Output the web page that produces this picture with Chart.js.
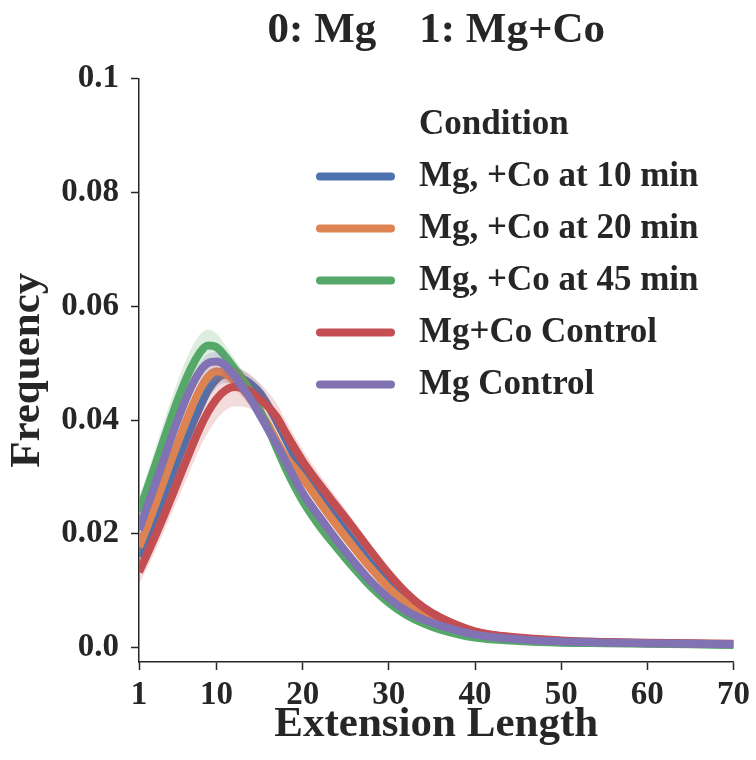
<!DOCTYPE html>
<html>
<head>
<meta charset="utf-8">
<script src="https://cdn.jsdelivr.net/npm/chart.js@4"></script>
<style>
  html, body { margin: 0; padding: 0; background: #fff; }
</style>
</head>
<body>
<canvas id="extChart" width="756" height="760"></canvas>
<script>
// Extension length histogram (mean frequency) per condition
const extensionLength = [1, 2, 3, 4, 5, 6, 7, 8, 9, 10, 11, 12, 13, 14, 15, 16, 17, 18, 20, 22, 24, 26, 28, 30, 32, 34, 36, 40, 45, 50, 55, 60, 65, 70];

const mgCo10 = [0.0160, 0.0195, 0.0232, 0.0270, 0.0310, 0.0348, 0.0385, 0.0420, 0.0452, 0.0472, 0.0480, 0.0479, 0.0473, 0.0463, 0.0448, 0.0425, 0.0397, 0.0367, 0.0310, 0.0265, 0.0225, 0.0185, 0.0146, 0.0112, 0.0085, 0.0064, 0.0049, 0.0028, 0.0017, 0.0012, 0.0010, 0.0008, 0.0007, 0.0006];
const mgCo20 = [0.0177, 0.0215, 0.0256, 0.0298, 0.0340, 0.0380, 0.0418, 0.0452, 0.0476, 0.0486, 0.0482, 0.0470, 0.0455, 0.0437, 0.0415, 0.0391, 0.0363, 0.0336, 0.0298, 0.0255, 0.0214, 0.0175, 0.0138, 0.0105, 0.0079, 0.0059, 0.0045, 0.0026, 0.0016, 0.0011, 0.0009, 0.0008, 0.0007, 0.0006];
const mgCo45 = [0.0238, 0.0282, 0.0326, 0.0371, 0.0415, 0.0455, 0.0490, 0.0517, 0.0531, 0.0528, 0.0512, 0.0492, 0.0472, 0.0448, 0.0418, 0.0385, 0.0350, 0.0316, 0.0258, 0.0213, 0.0175, 0.0139, 0.0106, 0.0079, 0.0058, 0.0043, 0.0032, 0.0018, 0.0012, 0.0009, 0.0008, 0.0007, 0.0006, 0.0005];
const mgCoControl = [0.0133, 0.0166, 0.0200, 0.0236, 0.0273, 0.0311, 0.0348, 0.0384, 0.0414, 0.0437, 0.0452, 0.0458, 0.0456, 0.0449, 0.0437, 0.0423, 0.0405, 0.0378, 0.0328, 0.0286, 0.0247, 0.0208, 0.0168, 0.0130, 0.0097, 0.0071, 0.0053, 0.0029, 0.0018, 0.0013, 0.0010, 0.0009, 0.0008, 0.0007];
const mgControl = [0.0207, 0.0250, 0.0292, 0.0336, 0.0380, 0.0420, 0.0456, 0.0484, 0.0500, 0.0503, 0.0496, 0.0479, 0.0458, 0.0436, 0.0410, 0.0383, 0.0357, 0.0328, 0.0272, 0.0229, 0.0188, 0.0150, 0.0115, 0.0087, 0.0065, 0.0050, 0.0039, 0.0023, 0.0015, 0.0011, 0.0009, 0.0008, 0.0007, 0.0006];

// half width of the 95% interval
const mgCo10Ci = [0.0015, 0.0015, 0.0015, 0.0015, 0.0015, 0.0015, 0.0015, 0.0015, 0.0015, 0.0015, 0.0015, 0.0015, 0.0015, 0.0015, 0.0015, 0.0014, 0.0014, 0.0013, 0.0012, 0.0011, 0.0010, 0.0009, 0.0008, 0.0007, 0.0006, 0.0005, 0.0004, 0.0003, 0.0002, 0.0002, 0.0002, 0.0002, 0.0002, 0.0002];
const mgCo20Ci = [0.0015, 0.0015, 0.0015, 0.0016, 0.0016, 0.0016, 0.0016, 0.0016, 0.0016, 0.0016, 0.0015, 0.0015, 0.0015, 0.0014, 0.0014, 0.0014, 0.0013, 0.0013, 0.0012, 0.0011, 0.0010, 0.0009, 0.0008, 0.0007, 0.0006, 0.0005, 0.0004, 0.0003, 0.0002, 0.0002, 0.0002, 0.0002, 0.0002, 0.0002];
const mgCo45Ci = [0.0025, 0.0027, 0.0030, 0.0032, 0.0033, 0.0034, 0.0034, 0.0032, 0.0028, 0.0024, 0.0020, 0.0018, 0.0016, 0.0015, 0.0014, 0.0013, 0.0012, 0.0012, 0.0011, 0.0010, 0.0009, 0.0008, 0.0007, 0.0006, 0.0005, 0.0004, 0.0004, 0.0003, 0.0002, 0.0002, 0.0002, 0.0002, 0.0002, 0.0002];
const mgCoControlCi = [0.0022, 0.0024, 0.0026, 0.0028, 0.0030, 0.0032, 0.0034, 0.0035, 0.0036, 0.0036, 0.0035, 0.0034, 0.0032, 0.0030, 0.0028, 0.0026, 0.0024, 0.0022, 0.0020, 0.0018, 0.0016, 0.0014, 0.0012, 0.0010, 0.0008, 0.0007, 0.0006, 0.0004, 0.0003, 0.0002, 0.0002, 0.0002, 0.0002, 0.0002];
const mgControlCi = [0.0016, 0.0016, 0.0016, 0.0016, 0.0016, 0.0016, 0.0016, 0.0016, 0.0016, 0.0016, 0.0016, 0.0015, 0.0015, 0.0015, 0.0014, 0.0014, 0.0013, 0.0013, 0.0012, 0.0011, 0.0010, 0.0009, 0.0008, 0.0007, 0.0006, 0.0005, 0.0004, 0.0003, 0.0002, 0.0002, 0.0002, 0.0002, 0.0002, 0.0002];

const conditions = ['Mg, +Co at 10 min', 'Mg, +Co at 20 min', 'Mg, +Co at 45 min', 'Mg+Co Control', 'Mg Control'];
const xTicks = [1, 10, 20, 30, 40, 50, 60, 70];
const yTicks = [0, 0.02, 0.04, 0.06, 0.08, 0.1];
const yTickLabels = ['0.0', '0.02', '0.04', '0.06', '0.08', '0.1'];

const palette = ['#4C72B0', '#DD8452', '#55A868', '#C44E52', '#8172B3'];
const seriesValues = [mgCo10, mgCo20, mgCo45, mgCoControl, mgControl];
const seriesCi = [mgCo10Ci, mgCo20Ci, mgCo45Ci, mgCoControlCi, mgControlCi];

const SERIF = '"Liberation Serif", "Times New Roman", serif';
const INK = '#262626';

function toPoints(ys) {
    return ys.map((y, i) => ({ x: extensionLength[i], y: y }));
}

function fade(hex, a) {
    const n = parseInt(hex.slice(1), 16);
    return 'rgba(' + (n >> 16) + ',' + ((n >> 8) & 255) + ',' + (n & 255) + ',' + a + ')';
}

// each condition: lower bound, upper bound (filled to lower), then the mean line
const datasets = [];
conditions.forEach((name, i) => {
    const vals = seriesValues[i];
    const ci = seriesCi[i];
    const layer = (4 - i) * 2;
    const band = {
        pointRadius: 0, borderWidth: 0, clip: 0, cubicInterpolationMode: 'monotone'
    };
    datasets.push(Object.assign({}, band, {
        label: '', data: toPoints(vals.map((v, k) => v - ci[k])), fill: false, order: layer
    }));
    datasets.push(Object.assign({}, band, {
        label: '', data: toPoints(vals.map((v, k) => v + ci[k])),
        fill: '-1', backgroundColor: fade(palette[i], 0.2), order: layer
    }));
    datasets.push({
        label: name,
        legendRow: i,
        data: toPoints(vals),
        borderColor: palette[i],
        borderWidth: 8,
        borderCapStyle: 'butt',
        borderJoinStyle: 'round',
        pointRadius: 0,
        fill: false,
        clip: 0,
        cubicInterpolationMode: 'monotone',
        order: layer + 1
    });
});

// legend in the upper right of the plot
const conditionLegend = {
    id: 'conditionLegend',
    afterDraw(chart) {
        const ctx = chart.ctx;
        const area = chart.chartArea;
        const lineX = area.left + 181;
        const textX = area.left + 280;
        ctx.save();
        ctx.fillStyle = INK;
        ctx.textBaseline = 'middle';
        ctx.textAlign = 'left';
        ctx.font = 'bold 35px ' + SERIF;
        ctx.fillText('Condition', textX, area.top + 46);
        chart.data.datasets.forEach(ds => {
            if (ds.legendRow === undefined) return;
            const y = area.top + 98 + ds.legendRow * 52;
            ctx.strokeStyle = ds.borderColor;
            ctx.lineWidth = 8;
            ctx.lineCap = 'round';
            ctx.beginPath();
            ctx.moveTo(lineX, y);
            ctx.lineTo(lineX + 71, y);
            ctx.stroke();
            ctx.fillText(ds.label, textX, y);
        });
        ctx.restore();
    }
};

const ctx = document.getElementById('extChart').getContext('2d');
const extChart = new Chart(ctx, {
    type: 'line',
    data: { datasets: datasets },
    plugins: [conditionLegend],
    options: {
        responsive: false,
        animation: false,
        devicePixelRatio: 1,
        layout: { padding: { top: 0, right: 19, bottom: 0, left: 0 } },
        plugins: {
            legend: { display: false },
            tooltip: { enabled: false },
            title: {
                display: true,
                fullSize: false,
                text: '0: Mg    1: Mg+Co',
                color: INK,
                font: { family: SERIF, size: 43, weight: 'bold' },
                padding: { top: 5, bottom: 22 }
            }
        },
        scales: {
            x: {
                type: 'linear',
                min: 1,
                max: 70,
                afterBuildTicks: scale => { scale.ticks = xTicks.map(v => ({ value: v })); },
                afterFit: scale => { scale.height = 98; },
                grid: { drawOnChartArea: false, drawTicks: true, tickLength: 8, tickWidth: 1.5, tickColor: INK },
                border: { display: true, color: INK, width: 1.5 },
                ticks: {
                    color: INK,
                    padding: 6,
                    maxRotation: 0,
                    font: { family: SERIF, size: 33, weight: 'bold' }
                },
                title: {
                    display: true,
                    text: 'Extension Length',
                    color: INK,
                    font: { family: SERIF, size: 43, weight: 'bold' },
                    padding: { top: 0, bottom: 9 }
                }
            },
            y: {
                min: -0.0025,
                max: 0.1,
                afterBuildTicks: scale => { scale.ticks = yTicks.map(v => ({ value: v })); },
                afterFit: scale => { scale.width = 139; },
                grid: { drawOnChartArea: false, drawTicks: true, tickLength: 8, tickWidth: 1.5, tickColor: INK },
                border: { display: true, color: INK, width: 1.5 },
                ticks: {
                    color: INK,
                    padding: 12,
                    font: { family: SERIF, size: 33, weight: 'bold' },
                    callback: (value, index) => yTickLabels[index]
                },
                title: {
                    display: true,
                    text: 'Frequency',
                    color: INK,
                    font: { family: SERIF, size: 43, weight: 'bold' },
                    padding: { top: 2, bottom: 0 }
                }
            }
        }
    }
});
</script>
</body>
</html>
